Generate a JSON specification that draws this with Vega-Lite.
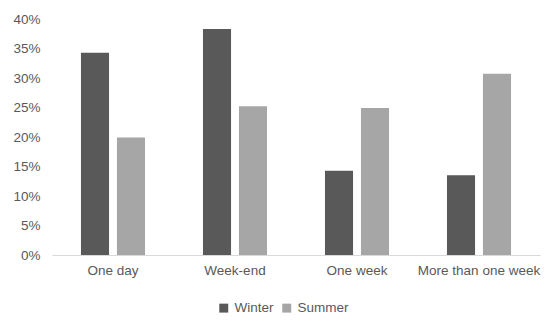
{
  "$schema": "https://vega.github.io/schema/vega-lite/v6.json",
  "autosize": {"type": "none"},
  "width": 488,
  "height": 236,
  "padding": {"left": 52, "top": 19, "right": 10, "bottom": 71},
  "background": "white",
  "config": {
    "view": {"stroke": null},
    "font": "Liberation Sans",
    "axis": {"labelFont": "Liberation Sans", "labelColor": "#595959", "labelFontSize": 13.5}
  },
  "data": {
    "values": [
      {"category": "One day", "season": "Winter", "value": 0.343},
      {"category": "One day", "season": "Summer", "value": 0.199},
      {"category": "Week-end", "season": "Winter", "value": 0.383},
      {"category": "Week-end", "season": "Summer", "value": 0.252},
      {"category": "One week", "season": "Winter", "value": 0.143},
      {"category": "One week", "season": "Summer", "value": 0.249},
      {"category": "More than one week", "season": "Winter", "value": 0.135},
      {"category": "More than one week", "season": "Summer", "value": 0.307}
    ]
  },
  "mark": {"type": "bar"},
  "encoding": {
    "x": {
      "field": "category", "type": "nominal",
      "sort": ["One day", "Week-end", "One week", "More than one week"],
      "scale": {"paddingInner": 0.475, "paddingOuter": 0.2375},
      "axis": {"title": null, "labelAngle": 0, "ticks": false, "domainColor": "#d9d9d9", "domainWidth": 1, "labelPadding": 8}
    },
    "xOffset": {
      "field": "season", "type": "nominal",
      "sort": ["Winter", "Summer"],
      "scale": {"paddingInner": 0.22, "paddingOuter": 0}
    },
    "y": {
      "field": "value", "type": "quantitative",
      "scale": {"domain": [0, 0.4]},
      "axis": {"title": null, "format": ".0%", "values": [0,0.05,0.1,0.15,0.2,0.25,0.3,0.35,0.4], "labelOverlap": false, "grid": false, "domain": false, "ticks": false, "labelPadding": 12}
    },
    "color": {
      "field": "season", "type": "nominal",
      "sort": ["Winter", "Summer"],
      "scale": {"domain": ["Winter", "Summer"], "range": ["#595959", "#a6a6a6"]},
      "legend": {"title": null, "orient": "none", "legendX": 165, "legendY": 282, "direction": "horizontal", "symbolType": "square", "symbolSize": 80, "labelFontSize": 13.5, "labelColor": "#595959", "columnPadding": 6, "symbolStrokeWidth": 0}
    }
  }
}
